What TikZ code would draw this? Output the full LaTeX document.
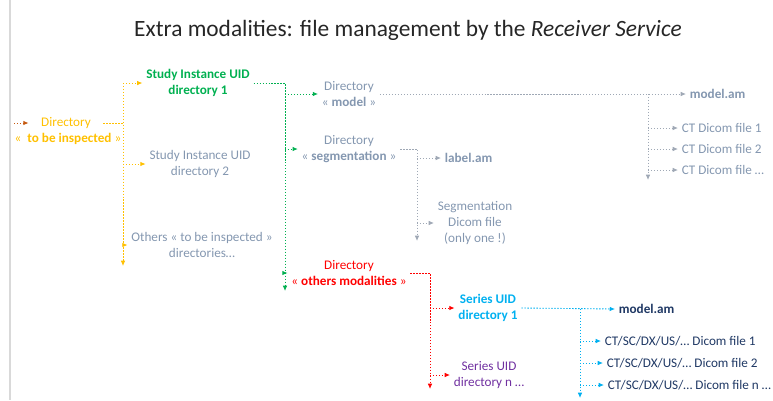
\documentclass[tikz,border=0pt]{standalone}
\usepackage{fontspec}
\setmainfont{Carlito}
\usetikzlibrary{arrows.meta}

\definecolor{gold}{HTML}{FFC000}
\definecolor{rust}{HTML}{C55A11}
\definecolor{leaf}{HTML}{00B050}
\definecolor{slate}{HTML}{8497B0}
\definecolor{wire}{HTML}{9FA8B5}
\definecolor{alert}{HTML}{FF0000}
\definecolor{sky}{HTML}{00B0F0}
\definecolor{plum}{HTML}{7030A0}
\definecolor{navy}{HTML}{1F3864}
\definecolor{ink}{HTML}{262626}
\definecolor{frame}{HTML}{D9D9D9}

\begin{document}
\begin{tikzpicture}[x=0.02cm, y=-0.02cm,
  txt/.style={align=center, inner sep=2pt, font=\fontsize{7.5}{9}\selectfont},
  bold/.style={txt, font=\fontsize{7.5}{9}\selectfont\bfseries},
  link/.style={dash pattern=on .8pt off .9pt, line width=.5pt},
  tip/.style={arrows={-Latex[length=3pt,width=2.6pt]}}]
\useasboundingbox (0,0) rectangle (773,400);
\draw[frame, line width=.6pt] (10,0) -- (10,400);

\node[ink, font=\fontsize{13.3}{16}\selectfont] at (408,30) (title)
  {Extra modalities: file management by the \textit{Receiver Service}};

% directory to be inspected
\node[txt, gold, inner xsep=7pt] at (66,123) (insp) {Directory};
\node[txt, gold] at (68,139) (inspname) {«~~\textbf{to be inspected}~»};

% study level
\node[bold, leaf] at (198,83) (study1) {Study Instance UID\\directory 1};
\node[txt, slate] at (200,164) (study2) {Study Instance UID\\directory 2};
\node[txt, slate] at (202,245) (others) {Others « to be inspected »\\directories…};

% sub directories
\node[txt, slate] at (349,94) (model) {Directory\\« \textbf{model} »};
\node[txt, slate] at (349,149) (segm) {Directory\\« \textbf{segmentation} »};
\node[txt, alert] at (349,273) (othmod) {Directory\\« \textbf{others modalities} »};

% files
\node[bold, slate, anchor=west] at (686,94) (modelam) {model.am};
\node[txt, slate, anchor=west] at (678,128) (ct1) {CT Dicom file 1};
\node[txt, slate, anchor=west] at (678,149) (ct2) {CT Dicom file 2};
\node[txt, slate, anchor=west] at (678,170) (ctn) {CT Dicom file …};
\node[bold, slate, anchor=west] at (441,158) (labelam) {label.am};
\node[txt, slate] at (475,223) (segdicom) {Segmentation\\Dicom file\\(only one !)};

% series level
\node[bold, sky] at (488,308) (ser1) {Series UID\\directory 1};
\node[txt, plum] at (489,375) (sern) {Series UID\\directory n …};
\node[bold, navy, anchor=west] at (615,309) (modelam2) {model.am};
\node[txt, navy, anchor=west] at (601,341) (ctsc1) {CT/SC/DX/US/… Dicom file 1};
\node[txt, navy, anchor=west] at (603,363) (ctsc2) {CT/SC/DX/US/… Dicom file 2};
\node[txt, navy, anchor=west] at (604,385) (ctscn) {CT/SC/DX/US/… Dicom file n …};

% incoming
\coordinate (entry) at (14,123);
\draw[link, tip, rust] (entry) -- (insp.west);

% yellow tree
\coordinate (ytop) at (123,83);
\coordinate (yend) at (123,266);
\draw[link, gold] (insp.east) -- (insp.east -| ytop);
\draw[link, tip, gold] (ytop) -- (yend);
\draw[link, tip, gold] (ytop) -- (study1.west |- ytop);
\draw[link, tip, gold] (ytop |- study2) -- (study2);
\draw[link, tip, gold] (ytop |- others) -- (others);

% green tree
\coordinate (gend) at (285,291);
\draw[link, tip, leaf] (study1.east) -| (gend);
\draw[link, tip, leaf] (gend |- model) -- (model);
\draw[link, tip, leaf] (gend |- segm) -- (segm);
\draw[link, tip, leaf] (gend |- othmod) -- (othmod);

% model tree
\coordinate (mfork) at (648,94);
\coordinate (mend) at (648,180);
\draw[link, tip, wire] (model.east) -- (modelam.west);
\draw[link, tip, wire] (mfork) -- (mend);
\draw[link, tip, wire] (mfork |- ct1) -- (ct1.west);
\draw[link, tip, wire] (mfork |- ct2) -- (ct2.west);
\draw[link, tip, wire] (mfork |- ctn) -- (ctn.west);

% segmentation tree
\coordinate (send) at (417,241);
\draw[link, tip, wire] (segm.east) -| (send);
\draw[link, tip, wire] (send |- labelam) -- (labelam.west);
\draw[link, tip, wire] (send |- segdicom) -- (segdicom);

% others modalities tree
\coordinate (rend) at (430,389);
\draw[link, tip, alert] (othmod.east) -| (rend);
\draw[link, tip, alert] (rend |- ser1) -- (ser1);
\draw[link, tip, alert] (rend |- sern) -- (sern);

% series tree
\coordinate (bfork) at (580,309);
\coordinate (bend) at (580,398);
\draw[link, tip, sky] (ser1.east) -- (modelam2.west);
\draw[link, tip, sky] (bfork) -- (bend);
\draw[link, tip, sky] (bfork |- ctsc1) -- (ctsc1.west);
\draw[link, tip, sky] (bfork |- ctsc2) -- (ctsc2.west);
\draw[link, tip, sky] (bfork |- ctscn) -- (ctscn.west);
\end{tikzpicture}
\end{document}
